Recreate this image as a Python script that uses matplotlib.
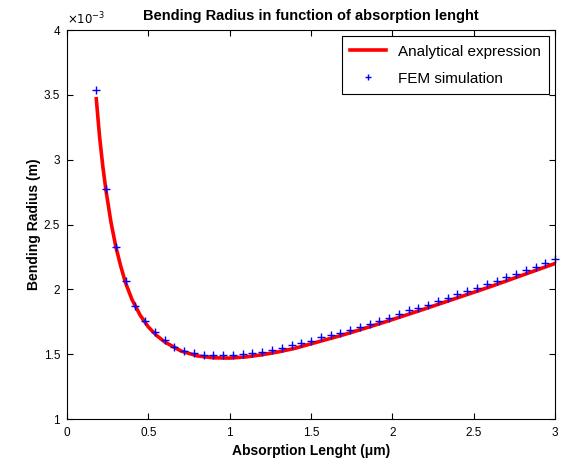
import numpy as np
import matplotlib
matplotlib.use("Agg")
import matplotlib.pyplot as plt
from matplotlib.ticker import FuncFormatter

plt.rcParams['font.family'] = ['Liberation Sans', 'DejaVu Sans']

# FEM simulation points (bending radius in units of 1e-3 m)
L_fem = [0.18 + 0.06 * i for i in range(48)]
R_fem = [3.541, 2.771, 2.330, 2.062, 1.874, 1.753, 1.668, 1.608, 1.559, 1.528,
         1.508, 1.495, 1.495, 1.495, 1.495, 1.503, 1.510, 1.520, 1.531, 1.551,
         1.572, 1.590, 1.603, 1.629, 1.649, 1.667, 1.685, 1.708, 1.734, 1.755,
         1.780, 1.811, 1.840, 1.856, 1.881, 1.912, 1.933, 1.964, 1.989, 2.010,
         2.041, 2.066, 2.097, 2.118, 2.149, 2.175, 2.205, 2.234]

# analytical expression curve
L_ana = [0.18, 0.20, 0.22, 0.24, 0.27, 0.30, 0.33, 0.36, 0.40, 0.45, 0.50,
         0.55, 0.60, 0.70, 0.80, 0.90, 1.00, 1.10, 1.20, 1.30, 1.40, 1.50,
         1.60, 1.70, 1.80, 1.90, 2.00, 2.20, 2.40, 2.60, 2.80, 3.00]
R_ana = [3.47, 3.18, 2.95, 2.76, 2.52, 2.33, 2.18, 2.05, 1.92, 1.80, 1.71,
         1.645, 1.595, 1.525, 1.487, 1.472, 1.470, 1.479, 1.496, 1.518, 1.545, 1.580,
         1.615, 1.650, 1.688, 1.727, 1.767, 1.850, 1.935, 2.02, 2.11, 2.20]

fig = plt.figure(figsize=(5.63, 4.63), dpi=100)
ax = fig.add_axes([0.119, 0.095, 0.867, 0.84])

ax.plot(L_ana, R_ana, color='red', linewidth=2.6, label='Analytical expression')
ax.plot(L_fem, R_fem, '+', color='blue', markersize=6, markeredgewidth=1.0,
        label='FEM simulation', clip_on=False)

ax.set_xlim(0, 3)
ax.set_ylim(1, 4)
ax.set_xticks(np.arange(0, 3.01, 0.5))
ax.set_yticks(np.arange(1, 4.01, 0.5))
fmt = FuncFormatter(lambda v, p: '%g' % v)
ax.xaxis.set_major_formatter(fmt)
ax.yaxis.set_major_formatter(fmt)
ax.tick_params(direction='in', top=True, right=True, length=4, width=0.8,
               labelsize=8.5)
ax.tick_params(axis='x', pad=6)
ax.tick_params(axis='y', pad=5)
for s in ax.spines.values():
    s.set_linewidth(0.8)

ax.text(0.0, 1.008, r'$\times 10^{-3}$', transform=ax.transAxes,
        fontsize=8.5, ha='left', va='bottom')

ax.set_title('Bending Radius in function of absorption lenght',
             fontsize=10.5, fontweight='bold', pad=7)
ax.set_xlabel('Absorption Lenght (\u03bcm)', fontsize=10, fontweight='bold',
              labelpad=3)
ax.set_ylabel('Bending Radius (m)', fontsize=10, fontweight='bold', labelpad=2)

leg = ax.legend(loc='upper right', fontsize=11, fancybox=False,
                framealpha=1, edgecolor='black', borderaxespad=0.4,
                handlelength=2.3, labelspacing=0.85, borderpad=0.55,
                markerscale=0.8)
leg.get_frame().set_linewidth(0.8)

fig.savefig('out.png', dpi=100)
